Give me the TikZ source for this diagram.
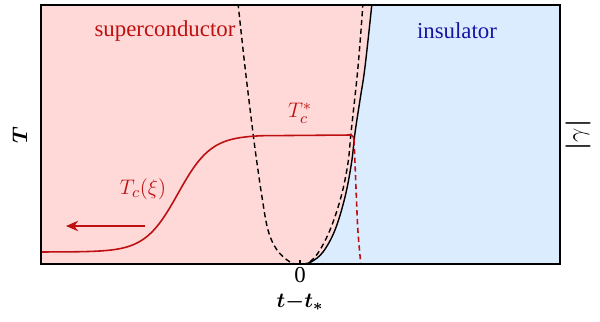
\documentclass[tikz,border=0pt]{standalone}
\usepackage{amsmath, amssymb}
\usepackage{fontspec}
\setmainfont{Liberation Serif}
\definecolor{scpink}{RGB}{255, 216, 216}
\definecolor{insblue}{RGB}{219, 236, 255}
\definecolor{tcred}{RGB}{190, 16, 16}
\definecolor{insnavy}{RGB}{24, 20, 165}
\usepackage{tikz}
\usetikzlibrary{arrows.meta, calc}

\begin{document}
\begin{tikzpicture}[
  x=0.02cm, y=-0.02cm,
  region/.style={font=\fontsize{13}{15}\selectfont, inner sep=0pt},
  axlabel/.style={font=\fontsize{13}{15}\selectfont, inner sep=0pt},
  phaseline/.style={line width=0.8pt, black},
  tcline/.style={line width=0.9pt, tcred}
]
  \useasboundingbox (0,0) rectangle (600,322);

  % regions
  \fill[insblue] (41,5) rectangle (560,264);
  \fill[scpink] (41,5) -- (372,5) -- plot[smooth, tension=0.6] coordinates {
    (372,5) (365,67) (360,100) (355,133) (351.5,163) (345,197) (335,230)
    (323,252) (311,262) (302,264)} -- (41,264) -- cycle;

  \begin{scope}
    \clip (41,5) rectangle (560,264);
    % dashed crossover
    \draw[phaseline, dashed, dash pattern=on 3pt off 2pt] plot[smooth, tension=0.6] coordinates {
      (238,3) (245,67) (253,133) (257,163) (262,197) (268,230) (277,250)
      (290,262) (300,264.5) (308,263) (318,253) (330,230) (341,197)
      (348,163) (351,133) (358,67) (363,3)};
    % phase boundary
    \draw[phaseline] plot[smooth, tension=0.6] coordinates {
      (372,3) (365,67) (360,100) (355,133) (351.5,163) (345,197) (335,230)
      (323,252) (311,262) (302,264)};
    % Tc curve
    \draw[tcline] plot[domain=39:262, samples=90, smooth]
      (\x, {193.5-58.5*tanh((\x-178)/33)}) -- (351,135)
      to[out=0, in=95] (354,140);
    \draw[tcline, dashed, dash pattern=on 3pt off 2pt] plot[smooth, tension=0.6] coordinates {
      (354,140) (355,163) (356.5,200) (358,232) (361,266)};
  \end{scope}

  \draw[line width=1.2pt] (41,5) rectangle (560,264);
  \draw[line width=1.2pt] (300,264) -- (300,260);

  % arrow
  \coordinate (arrS) at (145,226);
  \coordinate (arrE) at (66,226);
  \draw[-{Stealth[length=7pt, width=6pt]}, tcred, line width=0.6pt] (arrS) -- (arrE);

  \node[region, text=tcred] (sc) at (165,31) {superconductor};
  \node[region, text=insnavy] (ins) at (457,31) {insulator};
  \node[region, text=tcred] (tcstar) at (300,113) {$T_c^{*}$};
  \node[region, text=tcred] (tcxi) at (143,189) {$T_c(\xi)$};

  \node[axlabel, rotate=90] (ylab) at (20,135) {$\boldsymbol{T}$};
  \node[axlabel, rotate=90, font=\fontsize{14}{16}\selectfont] (gamlab) at (578,135) {$\boldsymbol{|}\gamma\boldsymbol{|}$};
  \node[axlabel] (zero) at (300,275) {0};
  \node[axlabel] (xlab) at (300,302) {$\boldsymbol{t{-}t_{*}}$};
\end{tikzpicture}
\end{document}
